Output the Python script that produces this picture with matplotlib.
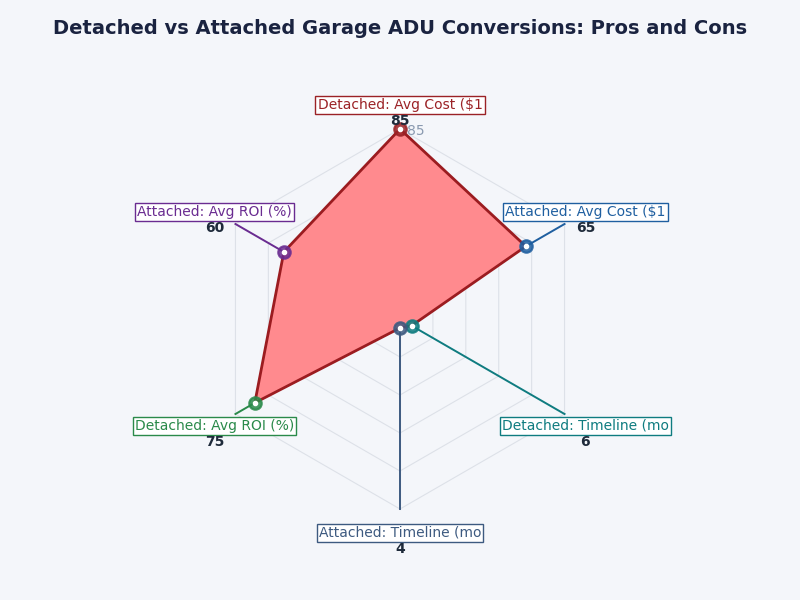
import numpy as np
import matplotlib.pyplot as plt

TITLE = "Detached vs Attached Garage ADU Conversions: Pros and Cons"
LABELS = ["Detached: Avg Cost ($1", "Attached: Avg Cost ($1", "Detached: Timeline (mo",
          "Attached: Timeline (mo", "Detached: Avg ROI (%)", "Attached: Avg ROI (%)"]
VALUES = [85, 65, 6, 4, 75, 60]
COLORS = ["#9b2226", "#1f5fa0", "#0f7c80", "#3d5a80", "#2a8a4a", "#6a2c91"]
RMAX = 85
RINGS = [17, 34, 51, 68, 85]

BG = "#f4f6fa"
PX = 190 / RMAX  # pixels per value unit

fig = plt.figure(figsize=(8, 6), dpi=100, facecolor=BG)
ax = fig.add_axes([0, 0, 1, 1])
ax.set_facecolor(BG)
ax.set_xlim(-400 / PX, 400 / PX)
ax.set_ylim(-281 / PX, 319 / PX)
ax.axis("off")

n = len(VALUES)
ang = np.pi / 2 - np.arange(n) * 2 * np.pi / n
ux, uy = np.cos(ang), np.sin(ang)

# grid
for r in RINGS:
    ax.plot(np.append(r * ux, r * ux[0]), np.append(r * uy, r * uy[0]),
            color="#dde1e8", lw=0.8, zorder=1)
for i in range(n):
    ax.plot([0, RMAX * ux[i]], [0, RMAX * uy[i]], color="#dde1e8", lw=0.8, zorder=1)

vals = np.array(VALUES)
px, py = vals * ux, vals * uy
ax.fill(px, py, color="#ff8a8e", zorder=2)
ax.plot(np.append(px, px[0]), np.append(py, py[0]), color="#9b1c20", lw=2, zorder=3)

for i in range(n):
    c = COLORS[i]
    ax.plot([px[i], RMAX * ux[i]], [py[i], RMAX * uy[i]], color=c, lw=1.4, zorder=2.5)
    ax.plot(px[i], py[i], "o", ms=9, mfc=c, mec=c, mew=1.5, alpha=0.85, zorder=4)
    ax.plot(px[i], py[i], "o", ms=3, color="white", zorder=5)
    lr = 214 / PX
    lx, ly = lr * ux[i], lr * uy[i]
    ax.text(lx, ly, LABELS[i], ha="center", va="center", fontsize=10, color=c,
            bbox=dict(boxstyle="square,pad=0.15", fc="white", ec=c, lw=1), zorder=6)
    ax.text(lx, ly - 16 / PX, str(VALUES[i]), ha="center", va="center",
            fontsize=10, fontweight="bold", color="#1e2a3a", zorder=6)

ax.text(3, RMAX - 1, "85", fontsize=10, color="#8a9ab0", ha="left", va="center", zorder=3)

fig.text(0.5, 0.953, TITLE, ha="center", va="center", fontsize=14,
         fontweight="bold", color="#1a2340")

fig.savefig("out.png", dpi=100, facecolor=BG)
